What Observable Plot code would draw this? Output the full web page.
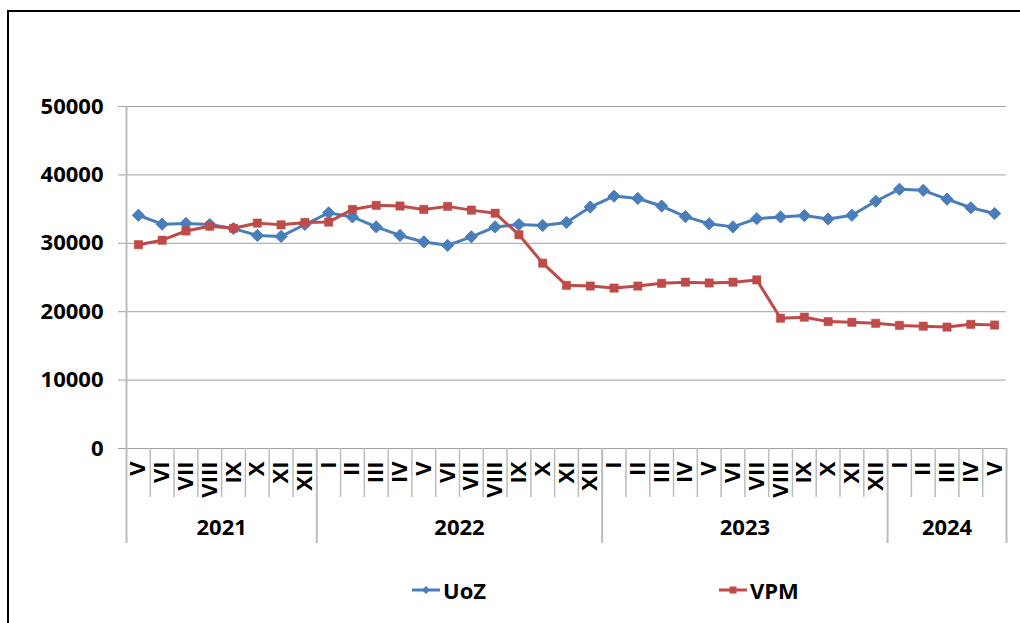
<!DOCTYPE html>
<html>
<head>
<meta charset="utf-8">
<script src="https://cdn.jsdelivr.net/npm/d3@7"></script>
<script src="https://cdn.jsdelivr.net/npm/@observablehq/plot@0.6"></script>
<style>
  html, body { margin: 0; padding: 0; background: #fff; overflow: hidden; width: 1020px; height: 623px; }
  #frame { position: absolute; left: 7px; top: 10px; width: 1100px; height: 700px; border-left: 2px solid #000; border-top: 2px solid #000; box-sizing: border-box; }
  #chart { position: absolute; left: 0; top: 0; }
  #legend { position: absolute; left: 0; top: 575px; width: 1020px; height: 30px; font-family: "Open Sans", sans-serif; font-weight: bold; font-size: 22px; color: #000; }
  .item { position: absolute; top: 0; display: flex; align-items: center; height: 30px; }
  .item svg { margin-right: 3px; }
</style>
</head>
<body>
<div id="frame"></div>
<div id="chart"></div>
<div id="legend"></div>
<script>
// ---- data ----
const years = ["2021", "2022", "2023", "2024"];
const yearMonthCounts = [8, 12, 12, 5];
const months = [
  "V","VI","VII","VIII","IX","X","XI","XII",
  "I","II","III","IV","V","VI","VII","VIII","IX","X","XI","XII",
  "I","II","III","IV","V","VI","VII","VIII","IX","X","XI","XII",
  "I","II","III","IV","V"
];
const uoz = [
  34100, 32800, 32900, 32750, 32150, 31150, 31000, 32750,
  34450, 33850, 32400, 31150, 30200, 29700, 30950, 32400, 32750, 32600, 33050, 35300,
  36900, 36550, 35450, 33900, 32850, 32400, 33600, 33850, 34050, 33550, 34100, 36150,
  37900, 37750, 36450, 35200, 34350
];
const vpm = [
  29800, 30450, 31800, 32500, 32200, 32950, 32700, 33050,
  33100, 34950, 35550, 35450, 34950, 35400, 34850, 34400, 31250, 27100, 23850, 23750,
  23450, 23750, 24150, 24320, 24200, 24320, 24650, 19050, 19200, 18550, 18450, 18300,
  18000, 17880, 17750, 18150, 18050
];
const yTicks = [0, 10000, 20000, 30000, 40000, 50000];
const seriesNames = ["UoZ", "VPM"];
const seriesColors = ["#4a7ebb", "#be4b48"];

// ---- derived tables ----
const data = months.map((m, i) => ({i, m, uoz: uoz[i], vpm: vpm[i]}));
let acc = 0;
const yearSpans = years.map((y, k) => {
  const start = acc;
  acc += yearMonthCounts[k];
  return {year: y, start, end: acc - 1};
});
const yearBoundaries = yearSpans.slice(1).map(s => s.start - 0.5).concat([months.length - 0.5]);
const monthBoundaries = d3.range(1, months.length)
  .filter(i => !yearSpans.some(s => s.start === i))
  .map(i => i - 0.5);

const font = "'Open Sans', sans-serif";
const fs = 22;

const chart = Plot.plot({
  width: 1020,
  height: 560,
  marginLeft: 126,
  marginRight: 14,
  marginTop: 106,
  marginBottom: 17,
  style: {fontFamily: font, fontWeight: "bold", fontSize: fs + "px", color: "#000", background: "transparent"},
  x: {type: "linear", domain: [-0.5, months.length - 0.5], axis: null},
  y: {domain: [0, 50000], range: [448, 106], axis: null},
  marks: [
    // gridlines with small ticks to the left
    Plot.ruleY(yTicks, {stroke: "#a0a0a0", strokeWidth: 1, insetLeft: -8}),
    // y tick labels
    Plot.text(yTicks, {y: d => d, text: d => String(d), frameAnchor: "left", textAnchor: "end", dx: -23, fontSize: fs, fontWeight: "bold", fill: "#000"}),
    // left axis line
    Plot.ruleX([-0.5], {stroke: "#bcbcbc", strokeWidth: 2}),
    // month separators
    Plot.ruleX(monthBoundaries, {stroke: "#bcbcbc", strokeWidth: 1.5, insetTop: 342, insetBottom: 46}),
    // year separators
    Plot.ruleX(yearBoundaries, {stroke: "#bcbcbc", strokeWidth: 2, insetTop: 342}),
    // month labels
    Plot.text(data, {x: "i", y: 0, text: "m", rotate: -90, textAnchor: "end", lineAnchor: "middle", dy: 13, fontSize: fs, fontWeight: "bold", fill: "#000"}),
    // year labels
    Plot.text(yearSpans, {x: d => (d.start + d.end) / 2, y: 0, text: "year", dy: 79, fontSize: fs, fontWeight: "bold", fill: "#000"}),
    // series
    Plot.line(data, {x: "i", y: "uoz", stroke: seriesColors[0], strokeWidth: 3}),
    Plot.dot(data, {x: "i", y: "uoz", symbol: "diamond2", r: 5.5, fill: seriesColors[0], stroke: seriesColors[0], strokeWidth: 1}),
    Plot.line(data, {x: "i", y: "vpm", stroke: seriesColors[1], strokeWidth: 3}),
    Plot.dot(data, {x: "i", y: "vpm", symbol: "square", r: 4.7, fill: seriesColors[1], stroke: seriesColors[1], strokeWidth: 0.5})
  ]
});
document.getElementById("chart").appendChild(chart);

// ---- legend ----
const legend = document.getElementById("legend");
const legendX = [412, 719];
seriesNames.forEach((name, k) => {
  const item = document.createElement("div");
  item.className = "item";
  item.style.left = legendX[k] + "px";
  const marker = k === 0
    ? `<path d="M14,11 L18,15 L14,19 L10,15 Z" fill="${seriesColors[k]}"/>`
    : `<rect x="10.5" y="11.5" width="7" height="7" fill="${seriesColors[k]}"/>`;
  item.innerHTML = `<svg width="28" height="30"><line x1="0" x2="28" y1="15" y2="15" stroke="${seriesColors[k]}" stroke-width="3"/>${marker}</svg><span>${name}</span>`;
  legend.appendChild(item);
});
</script>
</body>
</html>
